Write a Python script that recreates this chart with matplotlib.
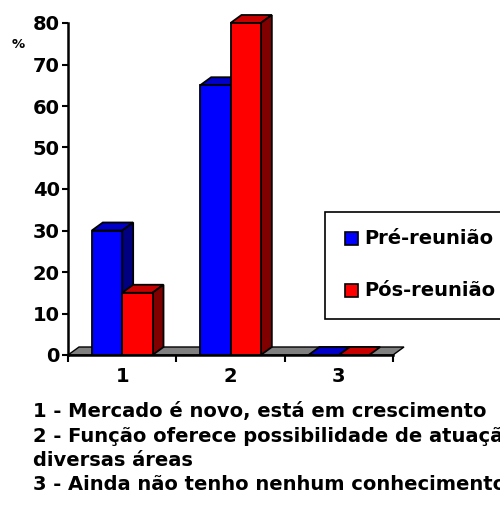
import matplotlib.pyplot as plt
from matplotlib.patches import Polygon, Rectangle

plt.rcParams['font.family'] = ['DejaVu Sans']

categories = ["1", "2", "3"]
pre_reuniao = [30, 65, 0]
pos_reuniao = [15, 80, 0]
series_names = ["Pré-reunião", "Pós-reunião"]
y_ticks = [0, 10, 20, 30, 40, 50, 60, 70, 80]
notes = [
    "1 - Mercado é novo, está em crescimento",
    "2 - Função oferece possibilidade de atuação em",
    "diversas áreas",
    "3 - Ainda não tenho nenhum conhecimento",
]

FRONT = ["#0000ff", "#ff0000"]
TOP = ["#0000c8", "#c80000"]
SIDE = ["#000080", "#800000"]

W, H = 500, 519
fig = plt.figure(figsize=(W / 100, H / 100), dpi=100)
ax = fig.add_axes([68 / W, 1 - 355 / H, 325 / W, 332 / H])
ax.set_xlim(0, len(categories))
ax.set_ylim(0, 80)

# depth of the pseudo-3D extrusion, in data units (about 11 px right, 8 px up)
DX = 11 / 325 * len(categories)
DY = 8 / 332 * 80
BAR_W = 0.28


def box(x0, x1, h, k):
    kw = dict(edgecolor="black", lw=1.3, clip_on=False, joinstyle="miter")
    ax.add_patch(Polygon([(x0, h), (x1, h), (x1 + DX, h + DY), (x0 + DX, h + DY)],
                         facecolor=TOP[k], **kw))
    if h > 0:
        ax.add_patch(Polygon([(x1, 0), (x1 + DX, DY), (x1 + DX, h + DY), (x1, h)],
                             facecolor=SIDE[k], **kw))
        ax.add_patch(Rectangle((x0, 0), x1 - x0, h, facecolor=FRONT[k], **kw))


# grey floor
ax.add_patch(Polygon([(0, 0), (3, 0), (3 + DX, DY), (DX, DY)],
                     facecolor="#808080", edgecolor="black", lw=1.0, clip_on=False))

for i in range(len(categories)):
    c = i + 0.5
    box(c - BAR_W, c, pre_reuniao[i], 0)
    box(c, c + BAR_W, pos_reuniao[i], 1)

for side in ["top", "right"]:
    ax.spines[side].set_visible(False)
for side in ["left", "bottom"]:
    ax.spines[side].set_linewidth(1.8)
    ax.spines[side].set_zorder(5)

ax.set_yticks(y_ticks)
ax.set_yticklabels([str(v) for v in y_ticks], fontsize=14, fontweight="bold")
ax.set_xticks([0, 1, 2, 3])
ax.set_xticklabels([])
ax.set_xticks([0.5, 1.5, 2.5], minor=True)
ax.set_xticklabels(categories, minor=True, fontsize=14, fontweight="bold")
ax.tick_params(axis="y", direction="out", length=4, width=1.5, pad=2)
ax.tick_params(axis="x", which="major", direction="out", length=5, width=1.5)
ax.tick_params(axis="x", which="minor", length=0, pad=9)

fig.text(12 / W, 1 - 45 / H, "%", fontsize=9.5, fontweight="bold", va="center")

# legend box, running off the right edge
fig.add_artist(Rectangle((325 / W, 1 - 319 / H), 200 / W, 107 / H,
                         transform=fig.transFigure, facecolor="white",
                         edgecolor="black", lw=1.2, clip_on=False))
for k, (name, yc) in enumerate(zip(series_names, [239, 291])):
    fig.add_artist(Rectangle((345 / W, 1 - (yc + 6) / H), 13 / W, 13 / H,
                             transform=fig.transFigure, facecolor=FRONT[k],
                             edgecolor="black", lw=1.2))
    fig.text(364 / W, 1 - yc / H, name, fontsize=14, fontweight="bold", va="center")

for txt, yc in zip(notes, [412, 437, 460, 485]):
    fig.text(33 / W, 1 - yc / H, txt, fontsize=14, fontweight="bold", va="center")

fig.savefig("out.png", dpi=100)
